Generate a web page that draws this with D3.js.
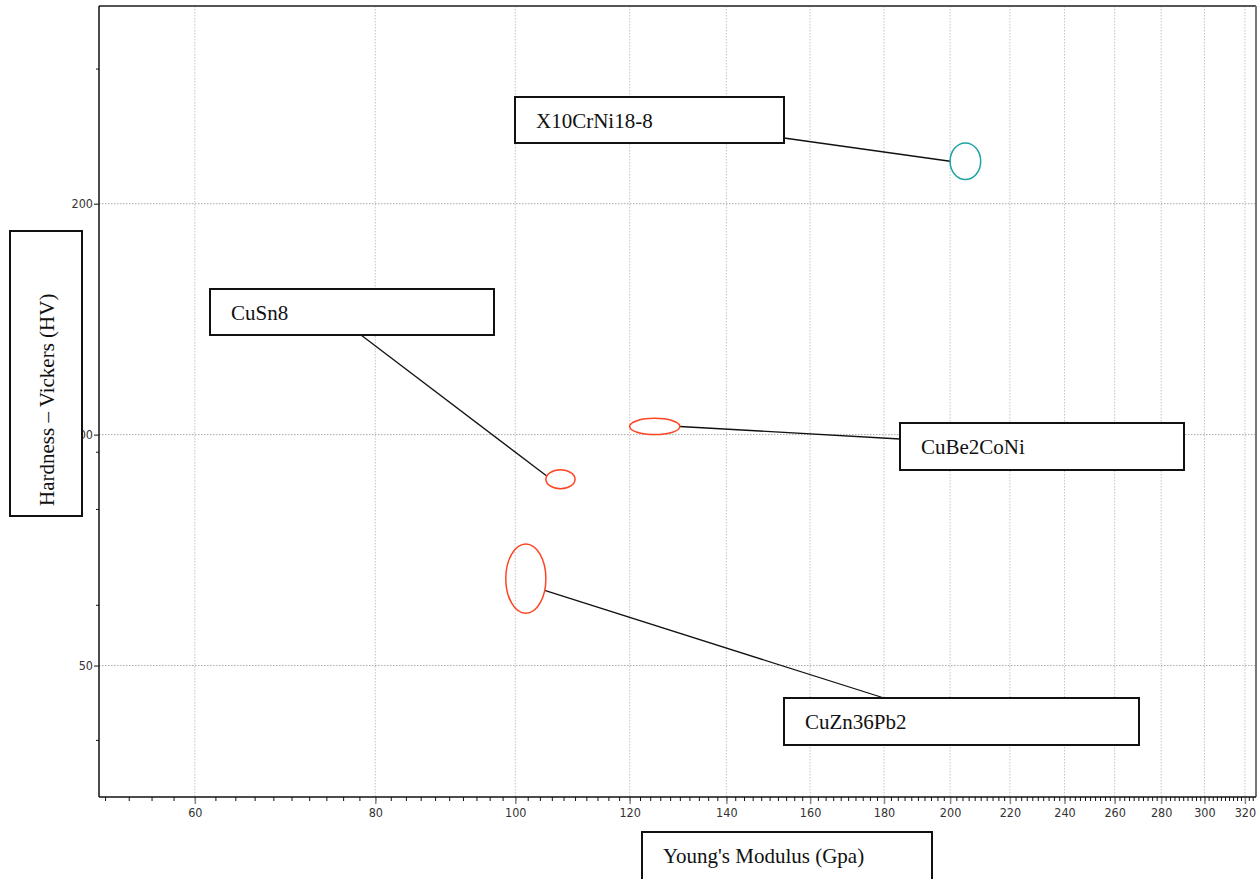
<!DOCTYPE html>
<html>
<head>
<meta charset="utf-8">
<script src="https://cdn.jsdelivr.net/npm/d3@7"></script>
<style>
  html, body { margin: 0; padding: 0; background: #fff; overflow: hidden; }
  svg { display: block; }
  .tick-label { font-family: "Liberation Sans Narrow", "Arial Narrow", "DejaVu Sans Condensed", sans-serif; font-size: 12.5px; fill: #333; }
  .box-text { font-family: "Liberation Serif", "Times New Roman", serif; font-size: 21px; fill: #111; }
</style>
</head>
<body>
<svg id="chart" width="1260" height="879"></svg>
<script>
// Materials: Young's modulus range (GPa) and Vickers hardness range (HV)
const materials    = ["X10CrNi18-8", "CuSn8", "CuBe2CoNi", "CuZn36Pb2"];
const modulusLow   = [200, 105, 120, 98.5];
const modulusHigh  = [210, 110, 130, 105];
const hardnessLow  = [215, 85, 100, 58.5];
const hardnessHigh = [240, 90, 105, 72];
const family       = ["steel", "copper", "copper", "copper"];

// Axis ranges and ticks
const modulusDomain  = [51.5, 325.7];
const hardnessDomain = [33.7, 362];
const xMajorTicks = [60, 80, 100, 120, 140, 160, 180, 200, 220, 240, 260, 280, 300, 320];
const xMinorTicks = d3.range(52, 326, 2);
const yMajorTicks = [50, 100, 200];
const yMinorTicks = [40, 60, 80, 95, 300];

const xTitle = "Young's Modulus (Gpa)";
const yTitle = "Hardness – Vickers (HV)";

const familyColor = { steel: "#1fa3a3", copper: "#ff4422" };

// Label boxes (page layout) and where each leader meets its ellipse
const labelLayout = [
  { x: 515, y: 97,  w: 269, h: 46, ax: 784, ay: 138, theta: 180 },
  { x: 210, y: 289, w: 284, h: 46, ax: 361, ay: 335, theta: 200 },
  { x: 900, y: 423, w: 284, h: 47, ax: 900, ay: 439, theta: 0 },
  { x: 784, y: 698, w: 355, h: 47, ax: 884, ay: 698, theta: 20 }
];

const plot = { left: 99, right: 1256, top: 6, bottom: 797 };

const svg = d3.select("#chart");

const x = d3.scaleLog().domain(modulusDomain).range([plot.left, plot.right]);
const y = d3.scaleLog().domain(hardnessDomain).range([plot.bottom, plot.top]);

// Grid
const grid = svg.append("g");
grid.selectAll("line.vgrid").data(xMajorTicks).join("line")
  .attr("x1", d => x(d)).attr("x2", d => x(d))
  .attr("y1", plot.top).attr("y2", plot.bottom)
  .attr("stroke", "#c4c4c4").attr("stroke-width", 1).attr("stroke-dasharray", "1.5,1.5");
grid.selectAll("line.hgrid").data(yMajorTicks).join("line")
  .attr("x1", plot.left).attr("x2", plot.right)
  .attr("y1", d => y(d)).attr("y2", d => y(d))
  .attr("stroke", "#a8a8a8").attr("stroke-width", 1).attr("stroke-dasharray", "1.5,1.5");

// Frame: top and right edges
svg.append("line").attr("x1", plot.left).attr("x2", plot.right)
  .attr("y1", plot.top).attr("y2", plot.top).attr("stroke", "#555").attr("stroke-width", 2);
svg.append("line").attr("x1", plot.right).attr("x2", plot.right)
  .attr("y1", plot.top).attr("y2", plot.bottom).attr("stroke", "#777").attr("stroke-width", 2);

// X axis
const xAxisG = svg.append("g").attr("transform", `translate(0,${plot.bottom})`);
xAxisG.call(d3.axisBottom(x).tickValues(xMinorTicks).tickSize(4).tickFormat(""))
  .call(g => g.select(".domain").remove())
  .call(g => g.selectAll(".tick line").attr("stroke", "#111"));
const xMajorG = svg.append("g").attr("transform", `translate(0,${plot.bottom})`);
xMajorG.call(d3.axisBottom(x).tickValues(xMajorTicks).tickSize(7).tickPadding(4).tickFormat(d3.format("d")))
  .call(g => g.select(".domain").remove())
  .call(g => g.selectAll(".tick line").attr("stroke", "#888").attr("stroke-width", 1.5))
  .call(g => g.selectAll(".tick text").attr("class", "tick-label").attr("fill", null));
svg.append("line").attr("x1", plot.left).attr("x2", plot.right)
  .attr("y1", plot.bottom).attr("y2", plot.bottom).attr("stroke", "#111").attr("stroke-width", 1.5);

// Y axis
const yAxisG = svg.append("g").attr("transform", `translate(${plot.left},0)`);
yAxisG.call(d3.axisLeft(y).tickValues(yMinorTicks).tickSize(3).tickFormat(""))
  .call(g => g.select(".domain").remove())
  .call(g => g.selectAll(".tick line").attr("stroke", "#111"));
const yMajorG = svg.append("g").attr("transform", `translate(${plot.left},0)`);
yMajorG.call(d3.axisLeft(y).tickValues(yMajorTicks).tickSize(5).tickPadding(1).tickFormat(d3.format("d")))
  .call(g => g.select(".domain").remove())
  .call(g => g.selectAll(".tick line").attr("stroke", "#111"))
  .call(g => g.selectAll(".tick text").attr("class", "tick-label").attr("fill", null));
svg.append("line").attr("x1", plot.left).attr("x2", plot.left)
  .attr("y1", plot.top).attr("y2", plot.bottom).attr("stroke", "#111").attr("stroke-width", 1.5);

// Material property ellipses
const data = materials.map((name, i) => {
  const x0 = x(modulusLow[i]), x1 = x(modulusHigh[i]);
  const y0 = y(hardnessHigh[i]), y1 = y(hardnessLow[i]);
  return {
    name, family: family[i], layout: labelLayout[i],
    cx: (x0 + x1) / 2, cy: (y0 + y1) / 2,
    rx: (x1 - x0) / 2, ry: (y1 - y0) / 2
  };
});

// Leader lines from label boxes to ellipses
svg.append("g").selectAll("line").data(data).join("line")
  .attr("x1", d => d.layout.ax).attr("y1", d => d.layout.ay)
  .attr("x2", d => d.cx + d.rx * Math.cos(d.layout.theta * Math.PI / 180))
  .attr("y2", d => d.cy + d.ry * Math.sin(d.layout.theta * Math.PI / 180))
  .attr("stroke", "#111").attr("stroke-width", 1.3);

svg.append("g").selectAll("ellipse").data(data).join("ellipse")
  .attr("cx", d => d.cx).attr("cy", d => d.cy)
  .attr("rx", d => d.rx).attr("ry", d => d.ry)
  .attr("fill", "none")
  .attr("stroke", d => familyColor[d.family])
  .attr("stroke-width", 1.5);

// Label boxes
const boxes = svg.append("g").selectAll("g").data(data).join("g")
  .attr("transform", d => `translate(${d.layout.x},${d.layout.y})`);
boxes.append("rect")
  .attr("width", d => d.layout.w).attr("height", d => d.layout.h)
  .attr("fill", "#fff").attr("stroke", "#111").attr("stroke-width", 2);
boxes.append("text").attr("class", "box-text")
  .attr("x", 21).attr("y", 31)
  .text(d => d.name);

// Axis title boxes
const yTitleG = svg.append("g").attr("transform", "translate(10,231)");
yTitleG.append("rect").attr("width", 72).attr("height", 285)
  .attr("fill", "#fff").attr("stroke", "#111").attr("stroke-width", 2);
yTitleG.append("text").attr("class", "box-text")
  .attr("transform", "translate(44,275) rotate(-90)")
  .text(yTitle);

const xTitleG = svg.append("g").attr("transform", "translate(642,832)");
xTitleG.append("rect").attr("width", 290).attr("height", 80)
  .attr("fill", "#fff").attr("stroke", "#111").attr("stroke-width", 2);
xTitleG.append("text").attr("class", "box-text")
  .attr("x", 21).attr("y", 31)
  .text(xTitle);
</script>
</body>
</html>
